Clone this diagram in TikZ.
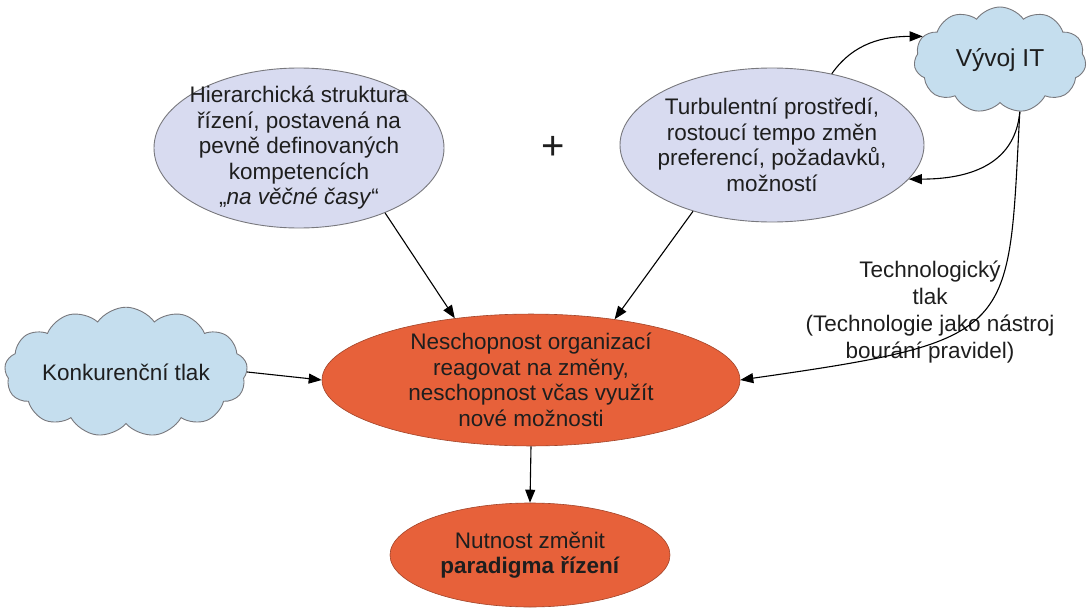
\documentclass[tikz,border=0pt]{standalone}
\usepackage{fontspec}
\setmainfont{Liberation Sans}
\usetikzlibrary{shapes.geometric,shapes.symbols,arrows.meta}
\definecolor{lav}{RGB}{216,219,240}
\definecolor{skyc}{RGB}{197,222,238}
\definecolor{redc}{RGB}{231,97,58}
\definecolor{edgec}{RGB}{120,120,125}
\definecolor{textc}{RGB}{30,30,30}
\begin{document}
\begin{tikzpicture}[x=1pt,y=-1pt,
  txt/.style={font=\fontsize{22.5}{25.5}\selectfont, text=textc, align=center},
  oval/.style={ellipse, draw=edgec, line width=0.9pt, fill=lav, inner sep=0pt, txt},
  hot/.style={ellipse, draw=redc!70!black, line width=0.6pt, fill=redc, inner sep=0pt, txt},
  puff/.style={cloud, cloud puffs=11, cloud puff arc=110, draw=edgec, line width=0.9pt,
    fill=skyc, inner sep=0pt, txt},
  arr/.style={-{Triangle[length=13pt,width=10pt]}, line width=1.1pt, draw=black}]
\useasboundingbox (0,0) rectangle (1087,610);

% upper causes (text set as a centred label so the oval keeps its own size)
\node[oval, minimum width=290, minimum height=160,
  label={[txt]center:{Hierarchická struktura\\ řízení, postavená na\\ pevně definovaných\\ kompetencích\\ „\textit{na věčné časy}“}}]
  (hier) at (299,148) {};
\node[oval, minimum width=304, minimum height=154,
  label={[txt]center:{Turbulentní prostředí,\\ rostoucí tempo změn\\ preferencí, požadavků,\\ možností}}]
  (tur) at (772,145) {};
\node[txt, font=\fontsize{40}{40}\selectfont] (plus) at (553,148) {+};

% clouds
\node[puff, aspect=1.62, minimum width=172, minimum height=106] (it) at (1000,60)
  {\fontsize{24.5}{28}\selectfont Vývoj IT};
\node[puff, cloud puffs=13, aspect=2.3, minimum width=236, minimum height=112] (konk) at (126,372)
  {Konkurenční tlak};

% consequences
\node[hot, minimum width=418, minimum height=130] (neo) at (531,380)
  {Neschopnost organizací\\ reagovat na změny,\\ neschopnost včas využít\\ nové možnosti};
\node[hot, minimum width=280, minimum height=104] (bot) at (530,555)
  {Nutnost změnit\\ \textbf{paradigma řízení}};

% label of the technology pressure
\node[txt, font=\fontsize{22.5}{27}\selectfont] (techl) at (930,312)
  {Technologický\\ tlak\\ (Technologie jako nástroj\\ bourání pravidel)};

% connectors
\draw[arr] (hier.-37) -- (neo.141);
\draw[arr] (tur.-140) -- (neo.36);
\draw[arr] (konk.east) -- (neo.west);
\draw[arr] (neo.south) -- (bot.north);
\draw[arr] (tur.50) to[out=55, in=180] (it.163);
\draw[arr] (it.-69) to[out=-95, in=0, looseness=1.1] (tur.-14);
\draw[arr] (it.-69) .. controls +(-12,222) and +(280,-40) .. (neo.east);
\end{tikzpicture}
\end{document}
